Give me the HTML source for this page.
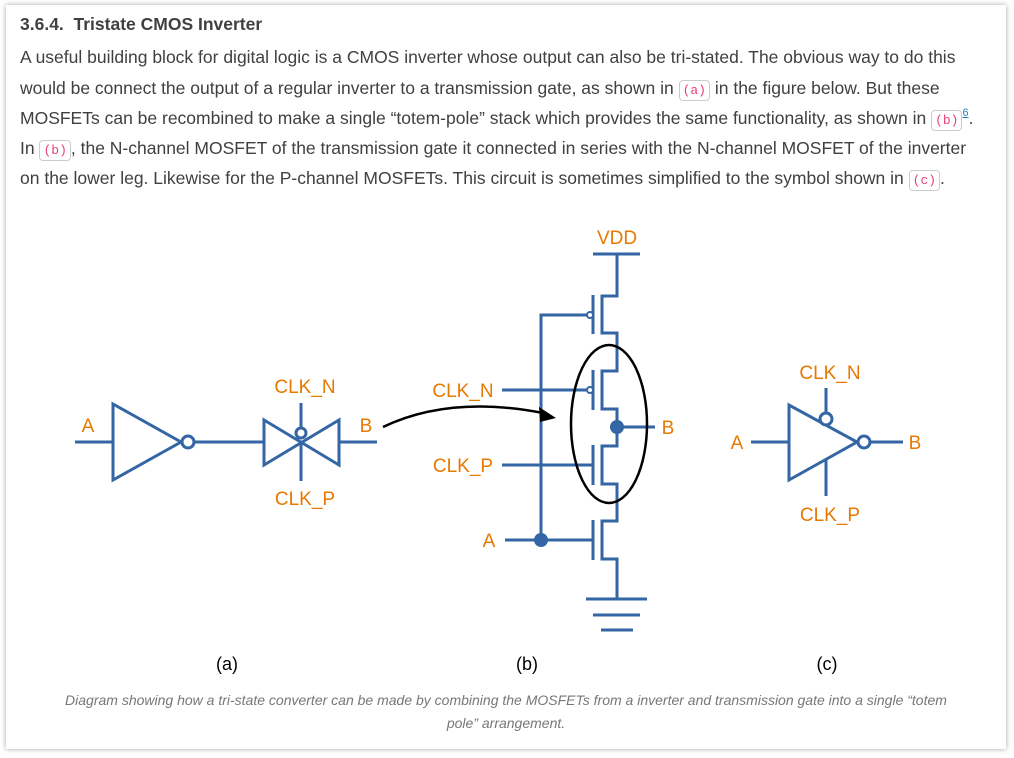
<!DOCTYPE html>
<html><head><meta charset="utf-8"><style>
body{margin:0;background:#fff;width:1014px;height:758px;overflow:hidden;font-family:"Liberation Sans",sans-serif;}
.card{position:absolute;left:6px;top:5px;width:1000px;height:744px;background:#fff;box-shadow:0 0 5px rgba(0,0,0,0.35);}
h3{position:absolute;left:14px;top:9px;margin:0;font-size:17.5px;font-weight:bold;color:#404040;white-space:nowrap;}
.l{position:absolute;left:14px;font-size:17.5px;line-height:20px;color:#404040;white-space:nowrap;}
code{font-family:"Liberation Mono",monospace;font-size:13px;color:#e8417f;border:1px solid #ccc;border-radius:4px;padding:2px 3px;background:#fff;}
sup{font-size:11px;color:#2980b9;text-decoration:underline;line-height:0;vertical-align:8px;}
.cap{position:absolute;left:0;width:1000px;top:684px;text-align:center;font-size:14px;font-style:italic;color:#777;line-height:23px;}
svg{position:absolute;left:0;top:0;}
</style></head><body>
<div class="card">
<h3>3.6.4.&nbsp; Tristate CMOS Inverter</h3>
<div class="l" style="top:42px">A useful building block for digital logic is a CMOS inverter whose output can also be tri-stated. The obvious way to do this</div>
<div class="l" style="top:73px">would be connect the output of a regular inverter to a transmission gate, as shown in <code>(a)</code> in the figure below. But these</div>
<div class="l" style="top:103px">MOSFETs can be recombined to make a single “totem-pole” stack which provides the same functionality, as shown in <code>(b)</code><sup>6</sup>.</div>
<div class="l" style="top:133px">In <code>(b)</code>, the N-channel MOSFET of the transmission gate it connected in series with the N-channel MOSFET of the inverter</div>
<div class="l" style="top:163px">on the lower leg. Likewise for the P-channel MOSFETs. This circuit is sometimes simplified to the symbol shown in <code>(c)</code>.</div>
<div class="cap">Diagram showing how a tri-state converter can be made by combining the MOSFETs from a inverter and transmission gate into a single “totem<br>pole” arrangement.</div>
</div>
<svg width="1014" height="758" viewBox="0 0 1014 758">
<g stroke="#3465a4" stroke-width="3" fill="none">
<line x1="75" y1="442" x2="113" y2="442"/>
<polygon points="113,404 113,480 181,442"/>
<circle cx="188" cy="442" r="6" fill="#fff"/>
<line x1="194" y1="442" x2="264" y2="442"/>
<polygon points="264,420 264,465 339,420 339,465"/>
<circle cx="301" cy="433" r="5" fill="#fff"/>
<line x1="301" y1="403" x2="301" y2="428"/>
<line x1="301" y1="442" x2="301" y2="481"/>
<line x1="339" y1="442" x2="377" y2="442"/>
<line x1="593" y1="254" x2="640" y2="254"/>
<polyline points="617,254 617,296 602,296 602,333 617,333 617,371 602,371 602,409 617,409 617,446 602,446 602,484 617,484 617,521 602,521 602,559 617,559 617,600"/>
<line x1="593" y1="295" x2="593" y2="334"/>
<line x1="593" y1="370" x2="593" y2="410"/>
<line x1="593" y1="445" x2="593" y2="485"/>
<line x1="593" y1="520" x2="593" y2="560"/>
<circle cx="590" cy="315" r="3" fill="#fff" stroke-width="2"/>
<circle cx="590" cy="390" r="3" fill="#fff" stroke-width="2"/>
<polyline points="587,315 541,315 541,540"/>
<line x1="502" y1="390" x2="587" y2="390"/>
<line x1="502" y1="465" x2="593" y2="465"/>
<line x1="505" y1="540" x2="593" y2="540"/>
<line x1="617" y1="427" x2="655" y2="427"/>
<line x1="586" y1="599" x2="647" y2="599"/>
<line x1="593" y1="615" x2="640" y2="615"/>
<line x1="601" y1="630" x2="633" y2="630"/>
<line x1="751" y1="442" x2="789" y2="442"/>
<polygon points="789,405 789,480 857,442"/>
<circle cx="864" cy="442" r="6" fill="#fff"/>
<line x1="870" y1="442" x2="903" y2="442"/>
<line x1="826" y1="388" x2="826" y2="413"/>
<circle cx="826" cy="419" r="6" fill="#fff"/>
<line x1="826" y1="460" x2="826" y2="496"/>
</g>
<circle cx="617" cy="427" r="7" fill="#3465a4"/>
<circle cx="541" cy="540" r="7" fill="#3465a4"/>
<ellipse cx="609" cy="424" rx="38" ry="79" fill="none" stroke="#000" stroke-width="2.5"/>
<path d="M383,427 Q450,395 543,413" fill="none" stroke="#000" stroke-width="2.5"/>
<polygon points="556,418 539,407 540,422" fill="#000"/>
<g fill="#e87800" font-family="Liberation Sans,sans-serif" font-size="19" text-anchor="middle">
<text x="88" y="432">A</text><text x="305" y="393">CLK_N</text><text x="305" y="505">CLK_P</text><text x="366" y="432">B</text>
<text x="617" y="244">VDD</text><text x="463" y="397">CLK_N</text><text x="463" y="472">CLK_P</text><text x="489" y="547">A</text><text x="668" y="434">B</text>
<text x="830" y="379">CLK_N</text><text x="737" y="449">A</text><text x="915" y="449">B</text><text x="830" y="521">CLK_P</text>
</g>
<g fill="#000" font-family="Liberation Sans,sans-serif" font-size="18" text-anchor="middle">
<text x="227" y="670">(a)</text><text x="527" y="670">(b)</text><text x="827" y="670">(c)</text>
</g>
</svg>
</body></html>
